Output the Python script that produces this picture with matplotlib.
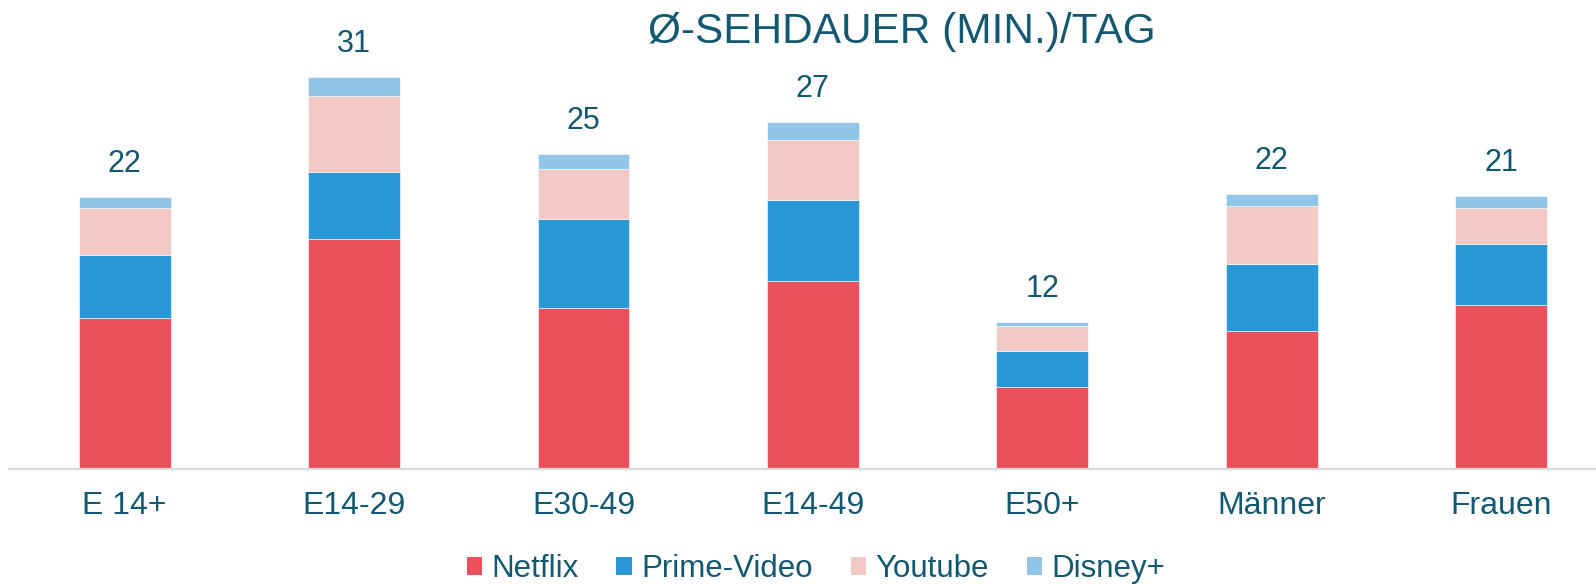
import numpy as np
import matplotlib
matplotlib.use("Agg")
import matplotlib.pyplot as plt
from matplotlib.patches import Patch

plt.rcParams['font.family'] = ['Liberation Sans', 'DejaVu Sans']

# data (minutes per day)
groups = ['E 14+', 'E14-29', 'E30-49', 'E14-49', 'E50+', 'Männer', 'Frauen']
netflix = [11.9, 18.2, 12.7, 14.9, 6.5, 10.9, 13.0]
prime = [5.0, 5.3, 7.1, 6.4, 2.8, 5.3, 4.8]
youtube = [3.7, 6.0, 3.9, 4.7, 2.0, 4.6, 2.8]
disney = [0.9, 1.5, 1.2, 1.4, 0.3, 0.9, 1.0]
totals = [22, 31, 25, 27, 12, 22, 21]

series = ['Netflix', 'Prime-Video', 'Youtube', 'Disney+']
colors = ['#EB515C', '#2899D6', '#F2C9C5', '#91C6E8']
text_col = '#135870'
grid_col = '#D9D9D9'

W, H = 1596, 584
fig = plt.figure(figsize=(W / 100, H / 100), dpi=100)

base = (H - 469) / H
top_px = 60
ymax = (469 - top_px) / 12.65
ax = fig.add_axes([9.5 / W, base, (W - 9.5) / W, (469 - top_px) / H])

x = np.arange(len(groups))
bottom = np.zeros(len(groups))
for s, c in zip([netflix, prime, youtube, disney], colors):
    ax.bar(x, s, 0.4, bottom=bottom, color=c, edgecolor='white', linewidth=0.4)
    bottom += np.array(s)

for xi, tot, t in zip(x, bottom, totals):
    ax.annotate(str(t), (xi, tot), xytext=(0, 18), textcoords='offset points',
                ha='center', va='baseline', fontsize=22, color=text_col)

ax.set_xlim(-0.502, 6.414)
ax.set_ylim(0, ymax)
ax.set_xticks(x)
ax.set_xticklabels(groups, fontsize=23, color=text_col)
ax.tick_params(axis='x', length=0, pad=16)
ax.set_yticks([])
for sp in ['top', 'right', 'left']:
    ax.spines[sp].set_visible(False)
ax.spines['bottom'].set_color(grid_col)
ax.spines['bottom'].set_linewidth(1.6)
ax.patch.set_alpha(0)

fig.text(902 / W, 1 - 43 / H, 'Ø-SEHDAUER (MIN.)/TAG', ha='center', va='baseline',
         fontsize=30.5, color=text_col)

handles = [Patch(facecolor=c, edgecolor='none') for c in colors]
fig.legend(handles, series, loc='center', bbox_to_anchor=(816 / W, 1 - 569 / H),
           ncol=4, frameon=False, fontsize=22.5, labelcolor=text_col,
           handlelength=0.5, handleheight=0.5, handletextpad=0.3,
           columnspacing=1.2, borderpad=0)

fig.savefig('out.png', dpi=100)
